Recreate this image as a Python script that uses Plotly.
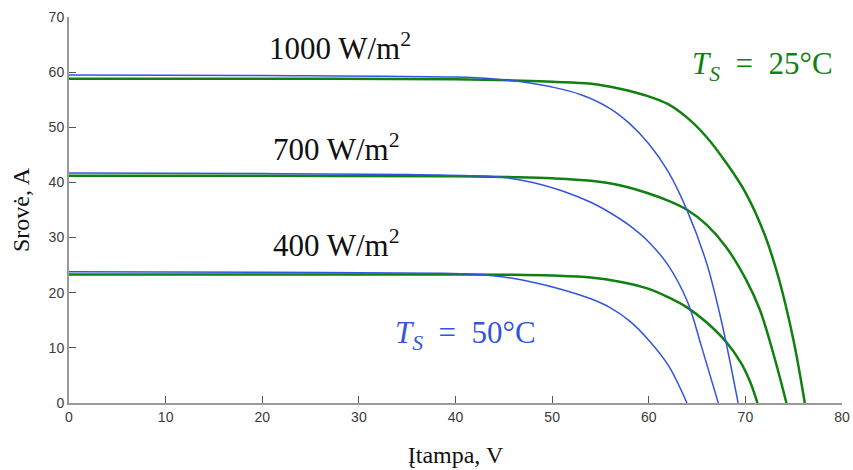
import plotly.graph_objects as go

# ---- data (voltage V, current A) ----
v_50_1000 = [0, 20, 40, 44, 47, 50, 53, 56, 58, 60, 62, 64, 66, 67.5, 69.25]
i_50_1000 = [59.5, 59.4, 59.1, 58.75, 58.2, 57.3, 55.9, 53.4, 50.7, 47.0, 42.0, 34.8, 25.3, 15.0, 0]

v_25_1000 = [0, 20, 40, 46, 50, 54, 57, 60, 62, 64, 66, 68, 70, 72, 73.5, 75, 76.15]
i_25_1000 = [58.8, 58.8, 58.7, 58.5, 58.25, 57.9, 57.0, 55.6, 54.2, 51.7, 48.2, 43.6, 38.2, 30.5, 22.3, 11.2, 0]

v_50_700 = [0, 20, 35, 42, 45, 48, 51, 54, 56, 58, 60, 62, 64, 65.5, 67.2]
i_50_700 = [41.7, 41.6, 41.45, 41.2, 40.9, 40.0, 38.5, 36.4, 34.5, 32.2, 29.2, 25.0, 18.4, 10.0, 0]

v_25_700 = [0, 20, 40, 46, 50, 54, 57, 60, 62, 64, 66, 68, 70, 71.5, 73, 74.25]
i_25_700 = [41.2, 41.2, 41.1, 40.95, 40.75, 40.3, 39.5, 38.0, 36.7, 35.0, 32.3, 28.3, 22.6, 16.9, 8.3, 0]

v_50_400 = [0, 20, 38, 42, 45, 48, 51, 54, 56, 58, 60, 62, 63.95]
i_50_400 = [23.8, 23.7, 23.55, 23.35, 22.85, 21.9, 20.6, 18.9, 17.3, 14.9, 11.4, 6.9, 0]

v_25_400 = [0, 20, 40, 46, 50, 54, 57, 60, 62, 64, 66, 68, 69.5, 70.5, 71.25]
i_25_400 = [23.3, 23.3, 23.3, 23.25, 23.1, 22.75, 22.0, 20.7, 19.2, 17.3, 14.6, 11.1, 7.4, 3.8, 0]

x_ticks = [0, 10, 20, 30, 40, 50, 60, 70, 80]
y_ticks = [0, 10, 20, 30, 40, 50, 60, 70]

irr_labels = ["1000 W/m<sup>2</sup>", "700 W/m<sup>2</sup>", "400 W/m<sup>2</sup>"]
temp_labels = ["<i>T</i><sub><i>S</i></sub>&nbsp;&nbsp;=&nbsp;&nbsp;25°C",
               "<i>T</i><sub><i>S</i></sub>&nbsp;&nbsp;=&nbsp;&nbsp;50°C"]

BLUE = "#3355dd"
GREEN = "#108010"

fig = go.Figure()

blue_curves = [(v_50_1000, i_50_1000), (v_50_700, i_50_700), (v_50_400, i_50_400)]
green_curves = [(v_25_1000, i_25_1000), (v_25_700, i_25_700), (v_25_400, i_25_400)]

for vx, iy in green_curves:
    fig.add_trace(go.Scatter(x=vx, y=iy, mode="lines",
                             line=dict(color=GREEN, width=2.5, shape="spline", smoothing=1.0),
                             showlegend=False, hoverinfo="skip"))
for vx, iy in blue_curves:
    fig.add_trace(go.Scatter(x=vx, y=iy, mode="lines",
                             line=dict(color=BLUE, width=1.5, shape="spline", smoothing=1.0),
                             showlegend=False, hoverinfo="skip"))

serif = "Liberation Serif, Times New Roman, serif"

irr_pos = [(28.0, 64.6), (27.7, 46.3), (27.7, 29.0)]
for txt, (ax, ay) in zip(irr_labels, irr_pos):
    fig.add_annotation(x=ax, y=ay, text=txt, showarrow=False,
                       font=dict(family=serif, size=31, color="#111"))

fig.add_annotation(x=71.8, y=61.2, text=temp_labels[0], showarrow=False,
                   font=dict(family=serif, size=31, color=GREEN))
fig.add_annotation(x=41.0, y=12.3, text=temp_labels[1], showarrow=False,
                   font=dict(family=serif, size=31, color=BLUE))

axis_common = dict(
    showgrid=False, zeroline=False, showline=True, automargin=False,
    linecolor="#999999", linewidth=2,
    ticks="inside", tickcolor="#555555", tickwidth=1, ticklen=7,
    tickfont=dict(family="Liberation Sans, Arial, sans-serif", size=14, color="#3a3a3a"),
)

fig.update_xaxes(range=[0, 80], tickvals=x_ticks, ticktext=[str(t) for t in x_ticks],
                 title=dict(text="Įtampa, V", font=dict(family=serif, size=24, color="#111"), standoff=22),
                 **axis_common)
fig.update_yaxes(range=[0, 70], tickvals=y_ticks, ticktext=[str(t) for t in y_ticks],
                 title=dict(text="Srovė, A", font=dict(family=serif, size=24, color="#111"), standoff=12),
                 **axis_common)

fig.update_layout(
    width=853, height=470,
    margin=dict(l=69, r=11, t=17, b=67),
    plot_bgcolor="white", paper_bgcolor="white",
)

fig.write_html("out.html")
